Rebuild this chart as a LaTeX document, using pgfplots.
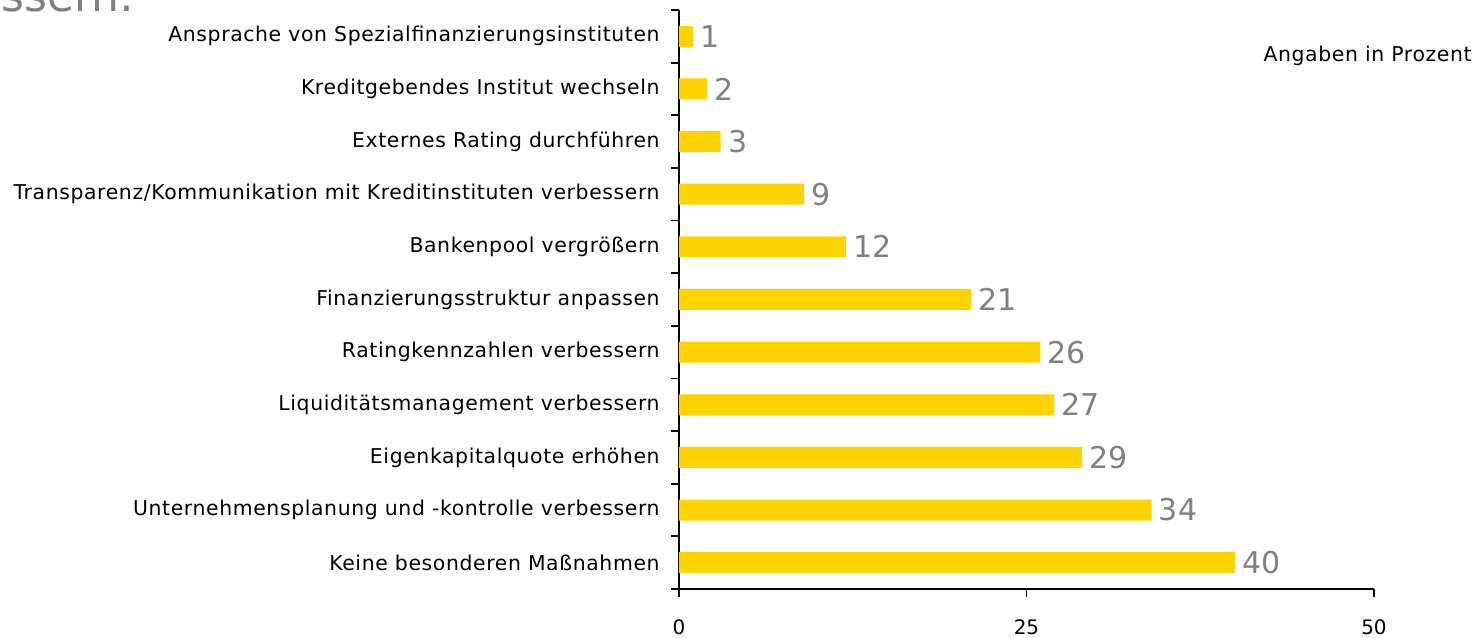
\documentclass[border=0pt]{standalone}
\usepackage{pgfplots}
\pgfplotsset{compat=1.18}
\usepackage{fontspec}
\setmainfont{DejaVu Sans}
\newfontfamily\lab[LetterSpace=3]{DejaVu Sans}
\definecolor{eyyellow}{HTML}{FFD300}
\definecolor{numgray}{HTML}{808080}
\begin{document}
\begin{tikzpicture}
\begin{axis}[
  at={(0pt,0pt)}, anchor=south west,
  scale only axis,
  width=347.5pt, height=289.5pt,
  xbar, bar width=10.5pt,
  xmin=0, xmax=50,
  ymin=-0.5, ymax=10.5,
  axis lines*=left,
  axis line style={line width=0.9pt},
  xtick={0,25,50},
  ytick={0,...,10},
  minor ytick={-0.5,0.5,...,10.5},
  yticklabels={Keine besonderen Maßnahmen,Unternehmensplanung und -kontrolle verbessern,Eigenkapitalquote erhöhen,Liquiditätsmanagement verbessern,Ratingkennzahlen verbessern,Finanzierungsstruktur anpassen,Bankenpool vergrößern,Transparenz/Kommunikation mit Kreditinstituten verbessern,Externes Rating durchführen,Kreditgebendes Institut wechseln,Ansprache von Spezialfinanzierungsinstituten},
  tick align=outside,
  major tick length=4pt,
  minor tick length=4pt,
  every major y tick/.append style={draw=none},
  every minor y tick/.append style={draw=black, line width=0.9pt},
  every major x tick/.append style={draw=black, line width=0.9pt},
  yticklabel style={inner sep=0pt, xshift=-5.5pt, font=\lab\fontsize{10.2}{12}\selectfont},
  xticklabel style={anchor=north, inner sep=0pt, yshift=-11pt, font=\fontsize{10}{12}\selectfont},
  /pgf/number format/assume math mode=true,
  nodes near coords,
  every node near coord/.append style={anchor=west, inner sep=0pt, xshift=3.5pt, text=numgray, font=\fontsize{15}{18}\selectfont, /pgf/number format/assume math mode=true},
  clip=false,
]
\addplot[fill=eyyellow, draw=none] coordinates {
  (40,0) (34,1) (29,2) (27,3) (26,4) (21,5) (12,6) (9,7) (3,8) (2,9) (1,10)
};
\end{axis}
\node[anchor=east, inner sep=0pt, font=\lab\fontsize{10.2}{12}\selectfont] at (396.5pt,266.5pt) {Angaben in Prozent};
\node[anchor=base east, inner sep=0pt, text=numgray, font=\fontsize{22}{26}\selectfont] at (-272pt,288.5pt) {verbessern:};
\pgfresetboundingbox
\useasboundingbox (-339.5pt,-24pt) rectangle (399pt,294.5pt);
\end{tikzpicture}
\end{document}
